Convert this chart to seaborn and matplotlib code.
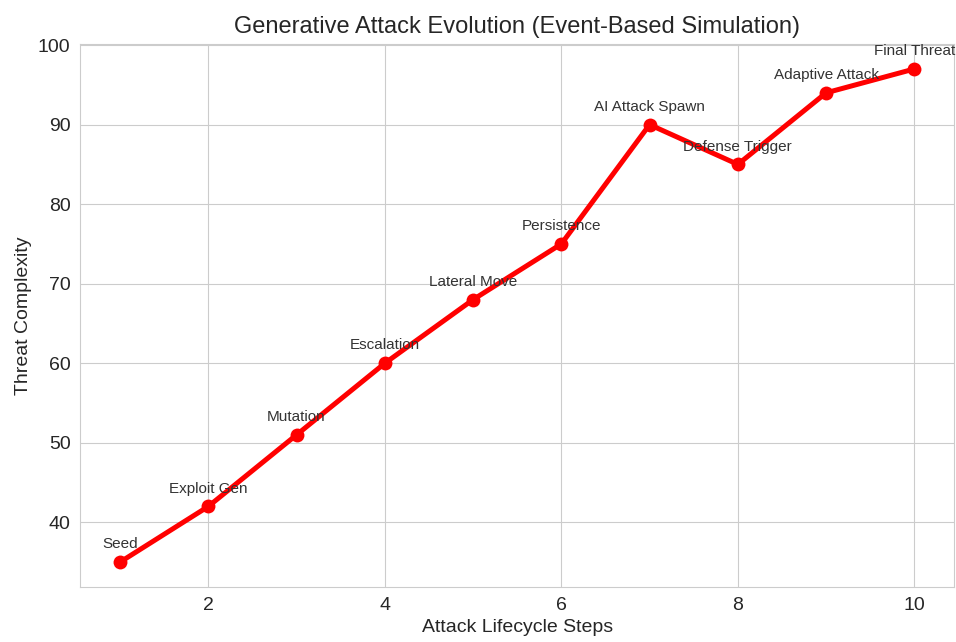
import matplotlib
matplotlib.use('Agg')
import matplotlib.pyplot as plt
import pandas as pd
import seaborn as sns

steps = [1, 2, 3, 4, 5, 6, 7, 8, 9, 10]
threat = [35, 42, 51, 60, 68, 75, 90, 85, 94, 97]
events = ['Seed', 'Exploit Gen', 'Mutation', 'Escalation', 'Lateral Move',
          'Persistence', 'AI Attack Spawn', 'Defense Trigger', 'Adaptive Attack',
          'Final Threat']

df = pd.DataFrame({'step': steps, 'threat': threat, 'event': events})

sns.set_style('whitegrid')
plt.rcParams['font.family'] = ['Liberation Sans', 'DejaVu Sans']

fig, ax = plt.subplots(figsize=(9.56, 6.42), dpi=100)
fig.subplots_adjust(left=0.084, right=0.998, top=0.931, bottom=0.086)

sns.lineplot(data=df, x='step', y='threat', color='red', linewidth=3.6,
             marker='o', markersize=10, markeredgewidth=0, ax=ax)

# label each event above its point
for _, row in df.iterrows():
    ax.annotate(row['event'], (row['step'], row['threat']),
                textcoords='offset points', xytext=(0, 10), ha='center',
                fontsize=11, color='#333333')

ax.set_title('Generative Attack Evolution (Event-Based Simulation)', fontsize=17,
             color='#262626', pad=8)
ax.set_xlabel('Attack Lifecycle Steps', fontsize=14, color='#262626')
ax.set_ylabel('Threat Complexity', fontsize=14, color='#262626')
ax.tick_params(labelsize=14, colors='#262626')

plt.savefig('out.png', dpi=100)
